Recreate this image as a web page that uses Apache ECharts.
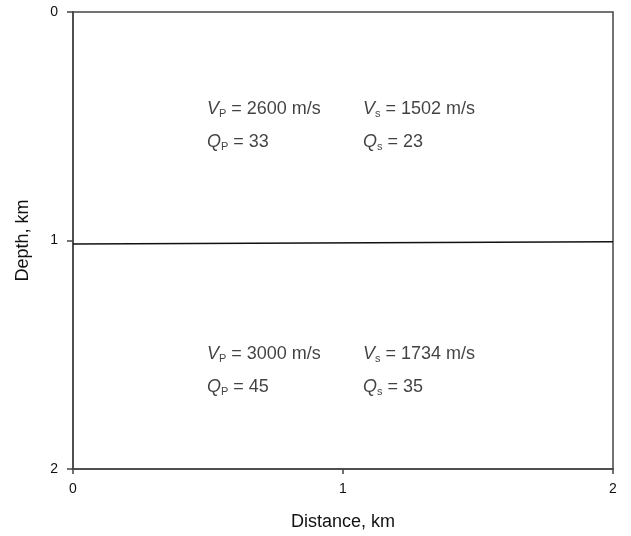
<!DOCTYPE html>
<html>
<head>
<meta charset="utf-8">
<script src="https://cdn.jsdelivr.net/npm/echarts@6/dist/echarts.min.js"></script>
<style>
html,body{margin:0;padding:0;background:#fff;}
#chart{width:631px;height:536px;}
</style>
</head>
<body>
<div id="chart"></div>
<script>
// ---- data ----
const xTicks = [0, 1, 2];              // distance, km
const yTicks = [0, 1, 2];              // depth, km
const interfaceDistance = [0, 2];      // km
const interfaceDepth = [1.015, 1.006]; // km
const vp = [2600, 3000];               // m/s
const vs = [1502, 1734];               // m/s
const qp = [33, 45];
const qs = [23, 35];
// label anchor coordinates (data units)
const colX = [0.496, 1.074];
const rowY = [[0.414, 0.560], [1.486, 1.632]];

const FONT = 'Liberation Sans, Arial, sans-serif';
const TXT = '#111';

const labelPts = [];
for (let i = 0; i < vp.length; i++) {
  labelPts.push({ value: [colX[0], rowY[i][0]], txt: '{i|V}{sub|P}{n| = ' + vp[i] + ' m/s}' });
  labelPts.push({ value: [colX[1], rowY[i][0]], txt: '{i|V}{sub|s}{n| = ' + vs[i] + ' m/s}' });
  labelPts.push({ value: [colX[0], rowY[i][1]], txt: '{i|Q}{sub|P}{n| = ' + qp[i] + '}' });
  labelPts.push({ value: [colX[1], rowY[i][1]], txt: '{i|Q}{sub|s}{n| = ' + qs[i] + '}' });
}

const chart = echarts.init(document.getElementById('chart'), null, { renderer: 'canvas' });
const axisColor = '#444';
chart.setOption({
  animation: false,
  backgroundColor: '#fff',
  grid: {
    left: 73, top: 12, right: 18, bottom: 67,
    show: true, borderColor: axisColor, borderWidth: 1.5, backgroundColor: 'transparent'
  },
  xAxis: {
    type: 'value', min: xTicks[0], max: xTicks[xTicks.length - 1], interval: 1,
    name: 'Distance, km', nameLocation: 'middle', nameGap: 44,
    nameTextStyle: { fontFamily: FONT, fontSize: 18, color: TXT },
    axisLine: { show: true, onZero: false, lineStyle: { color: axisColor, width: 1.5 } },
    axisTick: { show: true, length: 5, lineStyle: { color: axisColor, width: 1.5 } },
    axisLabel: { fontFamily: FONT, fontSize: 14, color: TXT, margin: 13 },
    splitLine: { show: false }
  },
  yAxis: {
    type: 'value', inverse: true, min: yTicks[0], max: yTicks[yTicks.length - 1], interval: 1,
    name: 'Depth, km', nameLocation: 'middle', nameGap: 41, nameRotate: 90,
    nameTextStyle: { fontFamily: FONT, fontSize: 18, color: TXT },
    axisLine: { show: true, onZero: false, lineStyle: { color: axisColor, width: 1.5 } },
    axisTick: { show: true, length: 6, lineStyle: { color: axisColor, width: 1.5 } },
    axisLabel: { fontFamily: FONT, fontSize: 14, color: TXT, margin: 15 },
    splitLine: { show: false }
  },
  series: [
    {
      type: 'line',
      data: interfaceDistance.map((d, i) => [d, interfaceDepth[i]]),
      symbol: 'none',
      lineStyle: { color: '#111', width: 1.5 },
      silent: true
    },
    {
      type: 'scatter',
      symbolSize: 0,
      silent: true,
      data: labelPts.map(p => ({ value: p.value, label: { formatter: p.txt } })),
      label: {
        show: true, position: 'right', distance: 0,
        color: TXT,
        rich: {
          i: { fontFamily: FONT, fontSize: 18, fontStyle: 'italic', color: TXT, lineHeight: 22, verticalAlign: 'bottom' },
          sub: { fontFamily: FONT, fontSize: 11, color: TXT, lineHeight: 22, verticalAlign: 'bottom', padding: [0, 0, -2, 0] },
          n: { fontFamily: FONT, fontSize: 18, color: TXT, lineHeight: 22, verticalAlign: 'bottom' }
        }
      }
    }
  ]
});
</script>
</body>
</html>
